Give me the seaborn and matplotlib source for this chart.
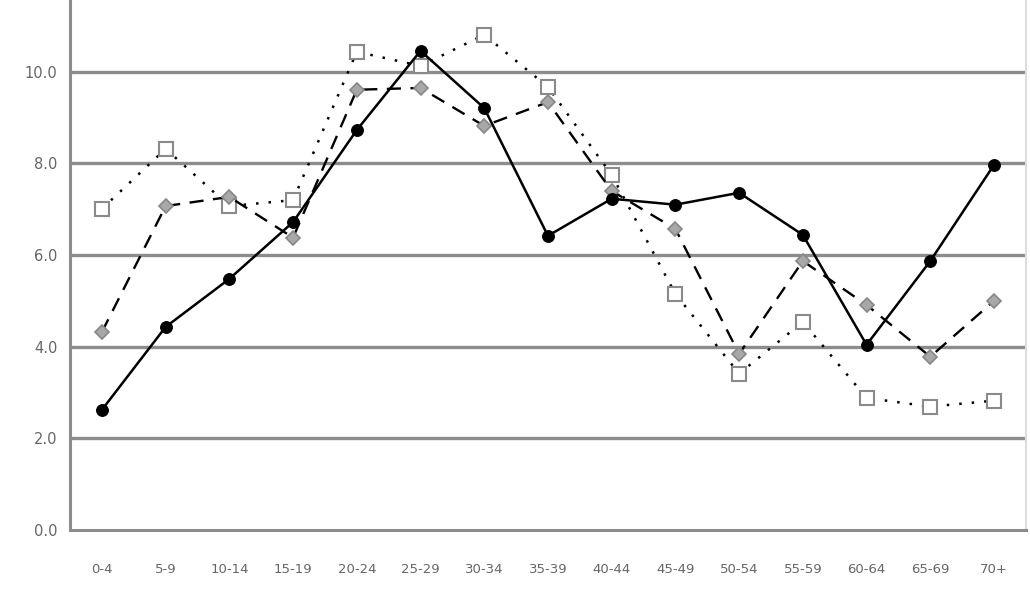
import pandas as pd
import numpy as np
import seaborn as sns
import matplotlib.pyplot as plt
from matplotlib.ticker import FixedLocator

# age groups on the x axis
age_groups = ['0-4', '5-9', '10-14', '15-19', '20-24', '25-29', '30-34', '35-39',
              '40-44', '45-49', '50-54', '55-59', '60-64', '65-69', '70+']

# three series
circles = [2.62, 4.43, 5.48, 6.72, 8.73, 10.46, 9.21, 6.42, 7.23, 7.10, 7.36, 6.44, 4.04, 5.87, 7.97]
diamonds = [4.32, 7.07, 7.27, 6.38, 9.61, 9.65, 8.82, 9.34, 7.40, 6.57, 3.84, 5.87, 4.91, 3.78, 5.00]
squares = [7.01, 8.32, 7.07, 7.20, 10.44, 10.13, 10.81, 9.67, 7.75, 5.15, 3.41, 4.54, 2.88, 2.69, 2.82]

y_ticks = [0, 2, 4, 6, 8, 10]

sns.set_style("white")
plt.rcParams['font.family'] = ['DejaVu Sans']

fig = plt.figure(figsize=(10.3, 6), dpi=100)
ax = fig.add_axes([0.068, 0.117, 0.928, 0.883])

df = pd.DataFrame({"age": age_groups, "sq": squares, "di": diamonds, "ci": circles})

# squares: dotted line, white boxes
sns.lineplot(data=df, x="age", y="sq", ax=ax, color="black", lw=1.8,
             linestyle=(0, (1, 4)), marker="s", markersize=10,
             markerfacecolor="white", markeredgecolor="#8a8a8a", markeredgewidth=1.5,
             sort=False, zorder=3)
# diamonds: dashed line, grey diamonds
sns.lineplot(data=df, x="age", y="di", ax=ax, color="black", lw=1.7,
             linestyle=(0, (6, 4)), marker="D", markersize=7.5,
             markerfacecolor="#a8a8a8", markeredgecolor="#888888", markeredgewidth=1.2,
             sort=False, zorder=4)
# circles: solid line, black dots
sns.lineplot(data=df, x="age", y="ci", ax=ax, color="black", lw=1.8,
             marker="o", markersize=8.5, markerfacecolor="black", markeredgecolor="black",
             sort=False, zorder=5)

ax.set_xlim(-0.5, len(age_groups) - 0.5)
ax.set_ylim(0, 11.57)
ax.set_yticks(y_ticks)
ax.set_yticklabels([f"{v:.1f}" for v in y_ticks])
ax.set_xlabel("")
ax.set_ylabel("")

for v in y_ticks[1:]:
    ax.axhline(v, color="#8c8c8c", lw=2.4, zorder=1)

ax.xaxis.set_minor_locator(FixedLocator(np.arange(-0.5, len(age_groups), 1.0)))
ax.tick_params(axis="x", which="major", length=0, pad=24, labelsize=9.5, labelcolor="#666666")
ax.tick_params(axis="x", which="minor", length=6, width=1.5, color="#8c8c8c", direction="out")
ax.tick_params(axis="y", which="major", length=6, width=1.5, color="#8c8c8c",
               direction="out", labelsize=10.5, labelcolor="#666666", pad=3)

for side in ["left", "bottom"]:
    ax.spines[side].set_color("#8c8c8c")
    ax.spines[side].set_linewidth(2.2)
ax.spines["top"].set_visible(False)
ax.spines["right"].set_color("#dddddd")
ax.spines["right"].set_linewidth(1.5)

fig.savefig("out.png", dpi=100, facecolor="white")
